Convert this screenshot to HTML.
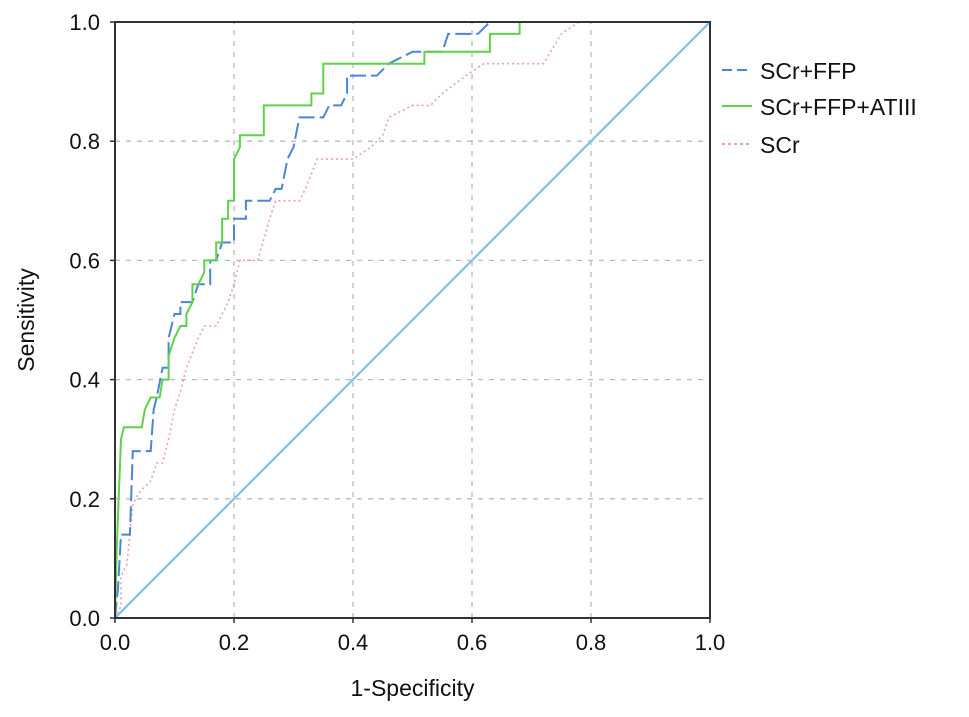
<!DOCTYPE html>
<html><head><meta charset="utf-8"><style>
body{margin:0;background:#fff;}
svg text{font-family:"Liberation Sans",sans-serif;fill:#111;}
</style></head><body>
<svg id="chart" width="969" height="712" xmlns="http://www.w3.org/2000/svg"></svg>
<script>
const ticks=[0,0.2,0.4,0.6,0.8,1.0];
const tickLabels=["0.0","0.2","0.4","0.6","0.8","1.0"];
const seriesNames=["SCr+FFP","SCr+FFP+ATIII","SCr"];
const blueFpr=[0,0.005,0.01,0.025,0.03,0.06,0.065,0.07,0.08,0.09,0.09,0.1,0.11,0.11,0.13,0.14,0.16,0.16,0.17,0.18,0.2,0.2,0.22,0.22,0.26,0.27,0.28,0.29,0.3,0.31,0.35,0.36,0.38,0.39,0.39,0.44,0.46,0.5,0.55,0.56,0.61,0.63,1];
const blueTpr=[0,0.05,0.14,0.14,0.28,0.28,0.35,0.37,0.42,0.42,0.47,0.51,0.51,0.53,0.53,0.56,0.56,0.6,0.6,0.63,0.63,0.67,0.67,0.7,0.7,0.72,0.72,0.77,0.79,0.84,0.84,0.86,0.86,0.88,0.91,0.91,0.93,0.95,0.95,0.98,0.98,1,1];
const greenFpr=[0,0.003,0.01,0.015,0.045,0.05,0.06,0.075,0.08,0.09,0.09,0.1,0.11,0.12,0.12,0.13,0.13,0.14,0.15,0.15,0.17,0.17,0.18,0.18,0.19,0.19,0.2,0.2,0.21,0.21,0.25,0.25,0.33,0.33,0.35,0.35,0.52,0.52,0.63,0.63,0.68,0.68,1];
const greenTpr=[0,0.12,0.3,0.32,0.32,0.35,0.37,0.37,0.4,0.4,0.44,0.47,0.49,0.49,0.51,0.53,0.56,0.56,0.58,0.6,0.6,0.63,0.63,0.67,0.67,0.7,0.7,0.77,0.79,0.81,0.81,0.86,0.86,0.88,0.88,0.93,0.93,0.95,0.95,0.98,0.98,1,1];
const pinkFpr=[0,0.01,0.01,0.02,0.03,0.04,0.06,0.07,0.08,0.09,0.1,0.11,0.12,0.14,0.15,0.17,0.18,0.19,0.2,0.21,0.24,0.26,0.27,0.31,0.32,0.34,0.4,0.43,0.45,0.46,0.5,0.53,0.55,0.59,0.62,0.72,0.75,0.78,1];
const pinkTpr=[0,0.02,0.07,0.09,0.19,0.21,0.23,0.26,0.26,0.3,0.35,0.38,0.42,0.47,0.49,0.49,0.51,0.53,0.56,0.6,0.6,0.67,0.7,0.7,0.72,0.77,0.77,0.79,0.81,0.84,0.86,0.86,0.88,0.91,0.93,0.93,0.98,1,1];
const diagX=[0,1], diagY=[0,1];

const svg=document.getElementById('chart');
const NS='http://www.w3.org/2000/svg';
const X0=115,X1=710,Y0=618,Y1=22;
const sx=v=>X0+v*(X1-X0), sy=v=>Y0-v*(Y0-Y1);
function mk(tag,attrs,parent){const e=document.createElementNS(NS,tag);for(const k in attrs)e.setAttribute(k,attrs[k]);(parent||svg).appendChild(e);return e;}

// grid
ticks.forEach((t,i)=>{
  if(t>0&&t<1){
    const g1=mk('line',{x1:sx(t),x2:sx(t),y1:Y0,y2:Y1,stroke:'#bbb','stroke-width':1.3,'stroke-dasharray':'5,6'});
    
    
    const g2=mk('line',{x1:X0,x2:X1,y1:sy(t),y2:sy(t),stroke:'#bbb','stroke-width':1.3,'stroke-dasharray':'5,6'});
    
    
  }
  const xt=mk('text',{x:sx(t),y:650,'font-size':22,'text-anchor':'middle'});xt.textContent=tickLabels[i];
  
  
  const yt=mk('text',{x:100,y:sy(t)+8,'font-size':22,'text-anchor':'end'});yt.textContent=tickLabels[i];
  
  
  const tk1=mk('line',{x1:sx(t),x2:sx(t),y1:Y0,y2:Y0+5,stroke:'#333','stroke-width':1.5});
  
  
  const tk2=mk('line',{x1:X0-5,x2:X0,y1:sy(t),y2:sy(t),stroke:'#333','stroke-width':1.5});
  
  
});

function line(xs,ys,attrs,name){
  const pts=xs.map((x,i)=>sx(x).toFixed(1)+','+sy(ys[i]).toFixed(1)).join(' ');
  const p=mk('polyline',Object.assign({points:pts,fill:'none'},attrs));
  
  
}
line(diagX,diagY,{stroke:'#7fbfe8','stroke-width':2.2},'reference-diagonal');
line(pinkFpr,pinkTpr,{stroke:'#e8a0b0','stroke-width':1.6,'stroke-dasharray':'2,3'},'scr-curve');
line(blueFpr,blueTpr,{stroke:'#4a86d8','stroke-width':2,'stroke-dasharray':'16,5'},'scr-ffp-curve');
line(greenFpr,greenTpr,{stroke:'#5fd24a','stroke-width':2},'scr-ffp-atiii-curve');

const frame=mk('rect',{x:X0,y:Y1,width:X1-X0,height:Y0-Y1,fill:'none',stroke:'#333','stroke-width':2});



const xl=mk('text',{x:sx(0.5),y:696,'font-size':23,'text-anchor':'middle'});xl.textContent='1-Specificity';


const yl=mk('text',{x:0,y:0,'font-size':23,'text-anchor':'middle',transform:'translate(34,'+sy(0.5)+') rotate(-90)'});yl.textContent='Sensitivity';



const legStyles=[{stroke:'#4a86d8','stroke-dasharray':'10,5'},{stroke:'#5fd24a'},{stroke:'#e8a0b0','stroke-dasharray':'3,3'}];
const legY=[71,107,145];
seriesNames.forEach((n,i)=>{
  const l=mk('line',Object.assign({x1:722,x2:752,y1:legY[i]-1,y2:legY[i]-1,'stroke-width':2},legStyles[i]));
  
  
  const t=mk('text',{x:760,y:legY[i]+8,'font-size':23});t.textContent=n;
  
  
});
</script>
</body></html>
